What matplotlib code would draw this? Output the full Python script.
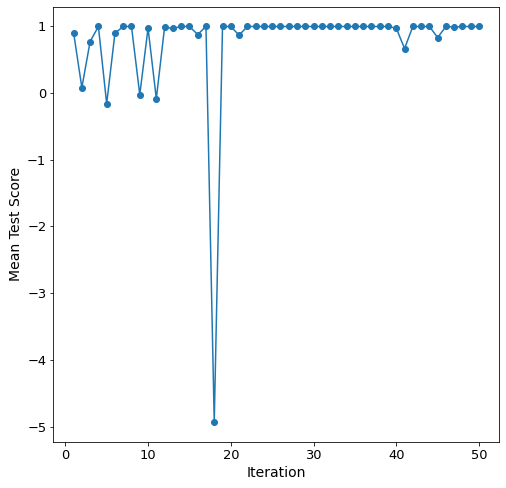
import matplotlib
matplotlib.use('Agg')
import matplotlib.pyplot as plt
import numpy as np

iterations = np.arange(1, 51)
mean_test_score = [
    0.90, 0.075, 0.765, 0.99, -0.165, 0.89, 0.99, 0.99, -0.03, 0.965,
    -0.09, 0.98, 0.96, 0.99, 0.99, 0.87, 0.99, -4.93, 0.99, 0.99,
    0.86, 0.99, 0.99, 0.99, 0.99, 0.99, 0.99, 0.99, 0.99, 0.99,
    0.99, 0.99, 0.99, 0.99, 0.99, 0.99, 0.99, 0.99, 0.99, 0.965,
    0.66, 0.99, 0.99, 0.99, 0.825, 0.99, 0.98, 0.99, 0.99, 0.99,
]

plt.rcParams['font.size'] = 13
plt.rcParams['axes.labelsize'] = 14

W, H, DPI = 506, 488, 72
fig = plt.figure(figsize=(W / DPI, H / DPI), dpi=DPI)
ax = fig.add_axes([53.3 / W, (H - 442) / H, (499.3 - 53.3) / W, (442 - 6.7) / H])

ax.plot(iterations, mean_test_score, marker='o')
ax.set_xlabel('Iteration')
ax.set_ylabel('Mean Test Score')

fig.savefig('out.png', dpi=DPI)
